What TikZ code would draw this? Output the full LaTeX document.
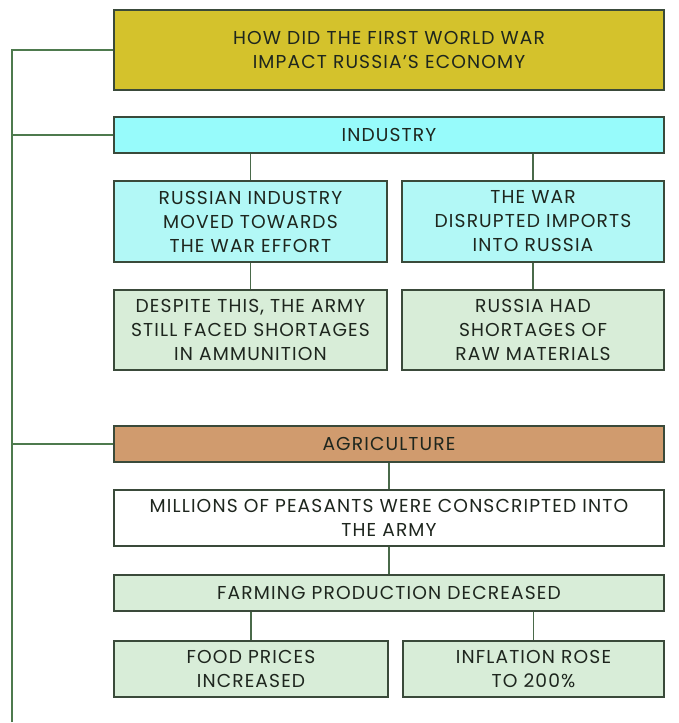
\documentclass[tikz,border=0pt]{standalone}
\usepackage{fontspec}
\setmainfont{Poppins}[LetterSpace=6]
\definecolor{titlefill}{HTML}{D4C22C}
\definecolor{indfill}{HTML}{97FBFB}
\definecolor{cyanfill}{HTML}{B2F8F6}
\definecolor{greenfill}{HTML}{D8EDD8}
\definecolor{agrifill}{HTML}{D09B6E}
\definecolor{boxline}{HTML}{3A4A3A}
\definecolor{linkline}{HTML}{4A6A4A}
\definecolor{trunk}{HTML}{4E7A4E}
\definecolor{txt}{HTML}{1E261E}
\tikzset{
  box/.style={draw=boxline, line width=0.8pt, inner sep=0pt, align=center,
    font=\fontsize{14}{18}\selectfont, text=txt},
  link/.style={draw=linkline, line width=0.8pt},
  trunkline/.style={draw=trunk, line width=0.8pt}
}
\begin{document}
\begin{tikzpicture}[x=0.75pt,y=-0.75pt]
\useasboundingbox (0,0) rectangle (678,723);
\node[box, fill=titlefill, minimum width=412.5pt, minimum height=60pt] (title) at (389,50) {HOW DID THE FIRST WORLD WAR\\IMPACT RUSSIA'S ECONOMY};
\node[box, fill=indfill, minimum width=412.5pt, minimum height=27pt] (ind) at (389,135) {INDUSTRY};
\node[box, fill=cyanfill, minimum width=204.75pt, minimum height=60.75pt] (r1l) at (250.5,221.5) {RUSSIAN INDUSTRY\\MOVED TOWARDS\\THE WAR EFFORT};
\node[box, fill=cyanfill, minimum width=196.5pt, minimum height=60.75pt] (r1r) at (533,221.5) {THE WAR\\DISRUPTED IMPORTS\\INTO RUSSIA};
\node[box, fill=greenfill, minimum width=204.75pt, minimum height=60pt] (r2l) at (250.5,330) {DESPITE THIS, THE ARMY\\STILL FACED SHORTAGES\\IN AMMUNITION};
\node[box, fill=greenfill, minimum width=196.5pt, minimum height=60pt] (r2r) at (533,330) {RUSSIA HAD\\SHORTAGES OF\\RAW MATERIALS};
\node[box, fill=agrifill, minimum width=412.5pt, minimum height=27pt] (agri) at (389,444) {AGRICULTURE};
\node[box, fill=white, minimum width=412.5pt, minimum height=42pt] (mill) at (389,518) {MILLIONS OF PEASANTS WERE CONSCRIPTED INTO\\THE ARMY};
\node[box, fill=greenfill, minimum width=412.5pt, minimum height=27pt] (farm) at (389,593) {FARMING PRODUCTION DECREASED};
\node[box, fill=greenfill, minimum width=205.5pt, minimum height=42pt] (b1) at (251,669) {FOOD PRICES\\INCREASED};
\node[box, fill=greenfill, minimum width=195.75pt, minimum height=42pt] (b2) at (533.5,669) {INFLATION ROSE\\TO 200\%};
\coordinate (top) at (12,50);
\coordinate (bot) at (12,722);
\draw[trunkline] (bot) -- (top) -- (title.west);
\draw[trunkline] (top |- ind.west) -- (ind.west);
\draw[trunkline] (top |- agri.west) -- (agri.west);
\draw[link] (ind.south -| r1l.north) -- (r1l.north);
\draw[link] (ind.south -| r1r.north) -- (r1r.north);
\draw[link] (r1l) -- (r2l);
\draw[link] (r1r) -- (r2r);
\draw[link] (agri) -- (mill);
\draw[link] (mill) -- (farm);
\draw[link] (farm.south -| b1.north) -- (b1.north);
\draw[link] (farm.south -| b2.north) -- (b2.north);
\end{tikzpicture}
\end{document}
